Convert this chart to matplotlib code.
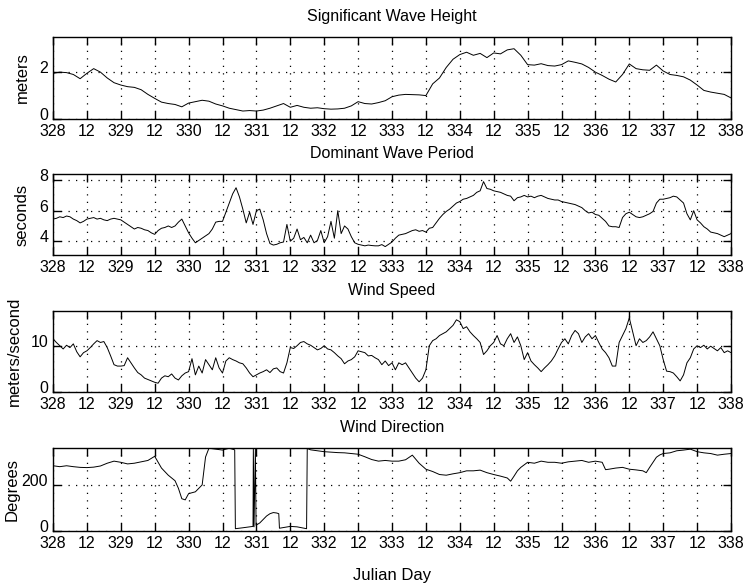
import numpy as np
import matplotlib
matplotlib.use("Agg")
import matplotlib.pyplot as plt
from matplotlib.transforms import ScaledTranslation

plt.rcParams["font.family"] = ["Liberation Sans", "DejaVu Sans"]

DAY_START, DAY_END = 328, 338

# Significant wave height (m), one reading every 0.1 day, one row per day
hs_m = [
    1.95, 2.0, 1.98, 1.9, 1.72, 1.95, 2.15, 2.0, 1.75, 1.55,
    1.45, 1.38, 1.35, 1.25, 1.05, 0.88, 0.72, 0.66, 0.62, 0.52,
    0.68, 0.74, 0.8, 0.76, 0.64, 0.56, 0.46, 0.4, 0.34, 0.36,
    0.34, 0.38, 0.46, 0.56, 0.66, 0.5, 0.58, 0.5, 0.46, 0.48,
    0.44, 0.42, 0.43, 0.46, 0.56, 0.74, 0.66, 0.64, 0.7, 0.78,
    0.95, 1.02, 1.05, 1.04, 1.03, 1.0, 1.5, 1.75, 2.2, 2.55,
    2.75, 2.85, 2.72, 2.8, 2.62, 2.82, 2.78, 2.95, 3.0, 2.72,
    2.32, 2.3, 2.36, 2.28, 2.26, 2.32, 2.48, 2.42, 2.35, 2.2,
    2.0, 1.86, 1.7, 1.58, 1.9, 2.35, 2.15, 2.1, 2.08, 2.3,
    2.05, 1.9, 1.86, 1.8, 1.66, 1.45, 1.22, 1.15, 1.1, 1.05,
    0.9,
]

# Dominant wave period (s), one reading every 0.05 day, one row per day
period_s = [
    5.45, 5.5, 5.6, 5.55, 5.65, 5.6, 5.45, 5.35, 5.2, 5.3, 5.45, 5.5, 5.55, 5.45, 5.5, 5.4, 5.35, 5.45, 5.5, 5.45,
    5.4, 5.25, 5.1, 4.95, 4.8, 4.9, 4.85, 4.75, 4.7, 4.55, 4.45, 4.7, 4.85, 4.9, 5.0, 4.9, 5.0, 5.25, 5.45, 5.0,
    4.55, 4.2, 3.9, 4.05, 4.2, 4.35, 4.5, 4.8, 5.25, 5.3, 5.3, 5.9, 6.5, 7.1, 7.5, 6.9, 6.1, 5.2, 5.9, 5.1,
    6.0, 6.1, 5.4, 4.5, 3.85, 3.75, 3.8, 3.9, 3.95, 5.1, 4.0, 4.2, 4.8, 4.1, 4.25, 3.9, 4.4, 3.9, 4.05, 4.7,
    3.9, 4.3, 5.3, 4.2, 6.0, 4.5, 5.0, 4.8, 4.3, 3.9, 3.8, 3.75, 3.7, 3.75, 3.72, 3.7, 3.7, 3.78, 3.65, 3.8,
    3.95, 4.2, 4.4, 4.45, 4.5, 4.6, 4.7, 4.75, 4.65, 4.7, 4.6, 4.85, 4.9, 5.2, 5.5, 5.75, 5.95, 6.1, 6.3, 6.5,
    6.6, 6.75, 6.8, 6.9, 7.0, 7.2, 7.3, 7.9, 7.45, 7.4, 7.3, 7.25, 7.2, 7.1, 7.0, 6.95, 6.65, 6.85, 6.9, 7.0,
    6.9, 6.95, 6.85, 6.95, 7.0, 6.9, 6.8, 6.75, 6.7, 6.7, 6.6, 6.55, 6.5, 6.45, 6.4, 6.3, 6.2, 6.0, 5.85, 5.9,
    5.75, 5.7, 5.5, 5.3, 5.0, 4.95, 4.95, 4.9, 5.55, 5.8, 5.9, 5.75, 5.6, 5.55, 5.6, 5.7, 5.8, 5.95, 6.5, 6.75,
    6.75, 6.8, 6.85, 6.95, 6.9, 6.7, 6.5, 5.8, 5.4, 6.0, 5.4, 5.2, 4.95, 4.8, 4.6, 4.55, 4.5, 4.4, 4.3, 4.4,
    4.5,
]

# Wind speed (m/s), one reading every 0.05 day, one row per day
wind_speed_ms = [
    11.5, 10.7, 10.0, 9.3, 10.1, 9.6, 10.4, 8.7, 7.6, 8.5, 8.9, 9.6, 10.4, 11.1, 10.7, 10.9, 9.6, 7.8, 5.9, 5.6,
    5.6, 5.7, 7.4, 6.3, 5.2, 4.2, 3.7, 3.0, 2.7, 2.4, 2.1, 1.9, 3.0, 3.5, 3.3, 3.9, 3.0, 2.6, 3.5, 4.1,
    4.4, 7.2, 3.7, 5.6, 4.1, 7.0, 5.9, 4.8, 7.4, 5.2, 4.1, 6.7, 7.4, 7.0, 6.7, 6.3, 6.1, 5.2, 4.1, 3.3,
    3.7, 4.1, 4.4, 4.8, 4.2, 5.0, 5.2, 4.4, 4.1, 6.3, 9.6, 9.4, 10.0, 10.7, 10.9, 10.4, 10.1, 9.6, 9.1, 9.4,
    10.0, 9.3, 9.1, 8.5, 7.8, 7.2, 6.1, 6.7, 7.0, 7.6, 8.9, 8.7, 8.5, 7.8, 7.9, 7.4, 7.0, 5.9, 6.7, 5.7,
    6.3, 4.8, 6.3, 5.9, 6.3, 5.2, 4.1, 3.0, 2.2, 3.0, 4.8, 10.0, 11.1, 11.5, 12.2, 12.6, 13.0, 13.7, 14.4, 15.6,
    15.2, 13.7, 14.1, 13.0, 12.2, 11.5, 10.7, 8.1, 8.9, 10.0, 10.7, 12.2, 10.4, 10.0, 11.5, 12.6, 10.7, 11.9, 10.0, 7.0,
    8.5, 6.7, 5.9, 5.2, 4.4, 5.2, 5.9, 6.7, 7.8, 9.3, 10.7, 11.5, 10.4, 12.2, 13.3, 12.6, 10.7, 11.9, 12.6, 11.5,
    12.2, 10.7, 9.3, 8.5, 7.4, 5.6, 5.6, 10.7, 12.2, 13.7, 16.0, 13.0, 10.0, 11.5, 10.7, 11.1, 11.9, 13.0, 11.5, 10.0,
    7.0, 4.5, 4.4, 4.1, 3.3, 2.4, 3.7, 6.3, 7.4, 9.3, 10.0, 9.6, 10.1, 9.3, 9.9, 9.4, 8.9, 9.6, 8.5, 8.9,
    8.5,
]

# Wind direction (degrees) with the Julian day of each reading
wind_dir_day = [
    328.0, 328.1, 328.2, 328.3, 328.4, 328.5, 328.6, 328.7, 328.8, 328.9,
    329.0, 329.1, 329.2, 329.3, 329.4, 329.5, 329.6, 329.7, 329.8, 329.85, 329.9, 329.95,
    330.0, 330.1, 330.2, 330.25, 330.3, 330.4, 330.5, 330.6, 330.68, 330.69, 330.8, 330.9,
    330.95, 330.955, 330.965, 330.985, 330.995,
    331.05, 331.1, 331.15, 331.2, 331.25, 331.3, 331.33, 331.34, 331.4, 331.5, 331.6,
    331.74, 331.75, 331.8, 331.9,
    332.0, 332.1, 332.2, 332.3, 332.4, 332.5, 332.6, 332.7, 332.8, 332.9,
    333.0, 333.1, 333.2, 333.3, 333.4, 333.5, 333.6, 333.7, 333.8, 333.9,
    334.0, 334.1, 334.2, 334.3, 334.4, 334.5, 334.6, 334.7, 334.75, 334.8, 334.85, 334.9,
    335.0, 335.1, 335.2, 335.3, 335.4, 335.5, 335.6, 335.7, 335.8, 335.9,
    336.0, 336.1, 336.15, 336.2, 336.3, 336.4, 336.5, 336.6, 336.7, 336.75, 336.8, 336.85,
    336.9, 336.95,
    337.0, 337.1, 337.2, 337.3, 337.4, 337.5, 337.6, 337.7, 337.8, 337.9, 338.0,
]
wind_dir_deg = [
    283, 279, 283, 279, 276, 275, 277, 282, 294, 303,
    298, 291, 294, 300, 306, 324, 273, 242, 218, 185, 140, 135,
    162, 170, 200, 321, 359, 355, 351, 359, 352, 10, 14, 18,
    20, 358, 18, 356, 25,
    35, 50, 65, 75, 80, 78, 75, 12, 15, 20, 18,
    10, 358, 352, 348,
    344, 342, 340, 339, 336, 333, 322, 310, 303, 306,
    303, 303, 309, 329, 294, 268, 258, 245, 242, 248,
    253, 261, 261, 264, 253, 245, 238, 230, 216, 238, 261, 276,
    298, 294, 303, 298, 298, 294, 300, 303, 306, 298,
    303, 298, 266, 268, 273, 276, 268, 265, 261, 253, 276, 298,
    320, 330,
    336, 339, 348, 351, 355, 344, 339, 336, 329, 333, 336,
]

tick_days = np.arange(DAY_START, DAY_END + 0.01, 0.5)
tick_labels = [str(int(d)) if d == int(d) else "12" for d in tick_days]


def day_axis(values):
    return np.linspace(DAY_START, DAY_END, len(values))


panels = [
    ("Significant Wave Height", "meters", day_axis(hs_m), hs_m, (0, 3.5), [0, 2]),
    ("Dominant Wave Period", "seconds", day_axis(period_s), period_s, (3.1, 8.4), [4, 6, 8]),
    ("Wind Speed", "meters/second", day_axis(wind_speed_ms), wind_speed_ms, (0, 17.5), [0, 10]),
    ("Wind Direction", "Degrees", np.array(wind_dir_day), wind_dir_deg, (0, 360), [0, 200]),
]

W, H = 745, 586
fig = plt.figure(figsize=(W / 100, H / 100), dpi=100)

left_px, right_px = 53, 731
frames_px = [(37, 119), (174, 255), (311, 392), (448, 531)]
title_y_px = [17, 153, 290, 428]
# right edge (pixels) of each rotated y label
ylabel_right_px = [30, 30, 22, 20]
lift = ScaledTranslation(0, 5 / 100, fig.dpi_scale_trans)

for (title, ylabel, x, y, ylim, yticks), (top, bot), ty, lab_px in zip(
        panels, frames_px, title_y_px, ylabel_right_px):
    ax = fig.add_axes([left_px / W, 1 - bot / H, (right_px - left_px) / W, (bot - top) / H])
    ax.plot(x, y, color="black", linewidth=0.7)
    ax.set_xlim(DAY_START, DAY_END)
    ax.set_ylim(*ylim)
    ax.set_xticks(tick_days)
    ax.set_xticklabels(tick_labels)
    ax.set_yticks(yticks)
    ax.tick_params(direction="in", length=6, width=1, top=True, right=True,
                   labelsize=11.5, color="black")
    ax.tick_params(axis="x", pad=3.5)
    ax.tick_params(axis="y", pad=3.5)
    for lbl in ax.get_yticklabels():
        lbl.set_transform(lbl.get_transform() + lift)
    ax.grid(True, color="black", linestyle=(0, (1, 5)), linewidth=0.9)
    for s in ax.spines.values():
        s.set_linewidth(1.0)
    fig.text((left_px + right_px) / 2 / W, 1 - ty / H, title,
             fontsize=11.5, ha="center", va="center")
    ax.set_ylabel(ylabel, fontsize=12)
    ax.yaxis.set_label_coords((lab_px - left_px) / (right_px - left_px), 0.5)

ax.set_xlabel("Julian Day", fontsize=12, labelpad=12)

fig.savefig("out.png", dpi=100)
